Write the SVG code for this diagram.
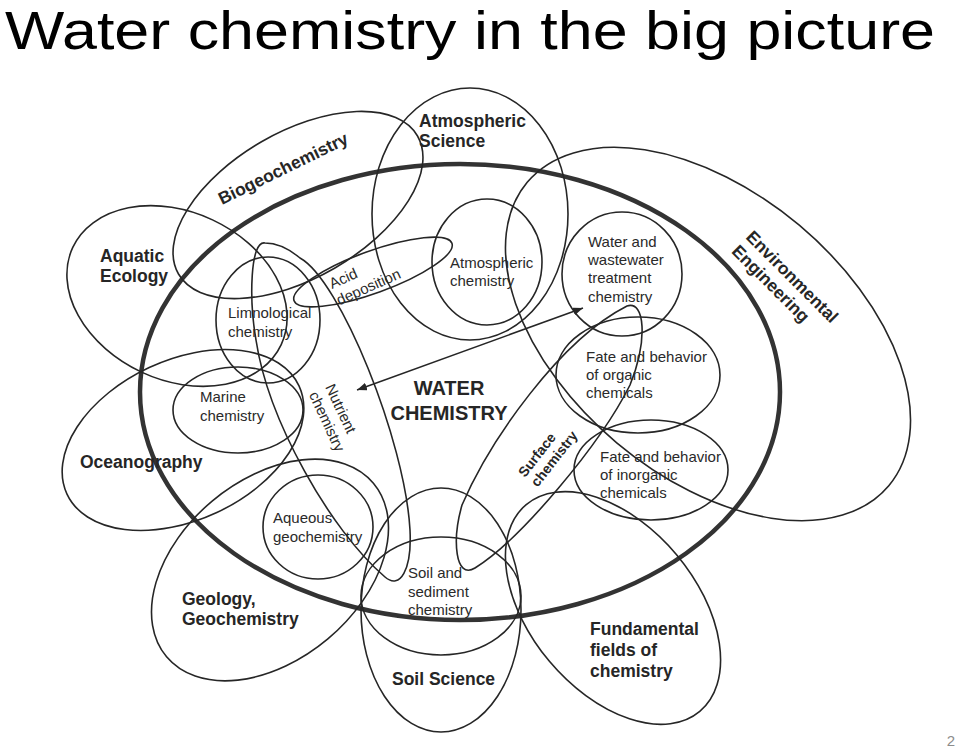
<svg xmlns="http://www.w3.org/2000/svg" width="960" height="753" viewBox="0 0 960 753">
<style>
.s{fill:none;stroke:#262626;stroke-width:1.6}
.main{fill:none;stroke:#333;stroke-width:4.5}
.b{font-family:"Liberation Sans",Arial,sans-serif;font-weight:bold;font-size:17.5px;fill:#262626}
.r{font-family:"Liberation Sans",Arial,sans-serif;font-size:15px;fill:#2a2a2a}
.title{font-family:"Liberation Sans",Arial,sans-serif;font-size:54px;fill:#000}
</style>
<defs>
<marker id="ah" viewBox="0 0 10 8" refX="10" refY="4" markerWidth="10" markerHeight="8" markerUnits="userSpaceOnUse" orient="auto-start-reverse">
<path d="M0,0 L10,4 L0,8 Z" fill="#262626"/>
</marker>
</defs>
<rect width="960" height="753" fill="#fff"/>
<text class="title" x="5" y="49" textLength="930" lengthAdjust="spacingAndGlyphs">Water chemistry in the big picture</text>
<text x="951" y="746" text-anchor="middle" style="font-family:'Liberation Sans',Arial,sans-serif;font-size:15px;fill:#8c8c8c">2</text>

<g id="water-chemistry">
<ellipse class="main" cx="460" cy="392" rx="320" ry="228"/>
<text class="b" style="font-size:20px" text-anchor="middle"><tspan x="449" y="395">WATER</tspan><tspan x="449" y="420">CHEMISTRY</tspan></text>
</g>
<g id="biogeochemistry">
<ellipse class="s" cx="298" cy="205" rx="138" ry="73" transform="rotate(-30 298 205)"/>
<text class="b" transform="translate(222,205) rotate(-26)">Biogeochemistry</text>
</g>
<g id="atmospheric-science">
<ellipse class="s" cx="470" cy="214" rx="98" ry="126"/>
<text class="b"><tspan x="419" y="127">Atmospheric</tspan><tspan x="419" y="147">Science</tspan></text>
</g>
<g id="atmospheric-chemistry">
<ellipse class="s" cx="487" cy="262" rx="55" ry="63"/>
<text class="r"><tspan x="450" y="268">Atmospheric</tspan><tspan x="450" y="286">chemistry</tspan></text>
</g>
<g id="acid-deposition">
<ellipse class="s" cx="373" cy="272" rx="84" ry="21" transform="rotate(-20 373 272)"/>
<text class="r" transform="translate(332,289) rotate(-24)"><tspan x="0" y="0">Acid</tspan><tspan x="0" y="18">deposition</tspan></text>
</g>
<g id="aquatic-ecology">
<ellipse class="s" cx="177" cy="296" rx="115" ry="84" transform="rotate(25 177 296)"/>
<text class="b"><tspan x="100" y="262">Aquatic</tspan><tspan x="100" y="282">Ecology</tspan></text>
</g>
<g id="limnological-chemistry">
<ellipse class="s" cx="268" cy="320" rx="52" ry="63"/>
<text class="r"><tspan x="228" y="318">Limnological</tspan><tspan x="228" y="337">chemistry</tspan></text>
</g>
<g id="nutrient-chemistry">
<path class="s" d="M265,243 C250,240 249,300 256,340 C268,420 330,530 385,577 C400,590 412,570 410,530 C405,440 340,280 300,258 C288,248 277,243 265,243 Z"/>
<text class="r" transform="translate(325,387) rotate(65)"><tspan x="0" y="0">Nutrient</tspan><tspan x="0" y="18">chemistry</tspan></text>
</g>
<g id="marine-chemistry">
<ellipse class="s" cx="238" cy="410" rx="65" ry="43"/>
<text class="r"><tspan x="200" y="402">Marine</tspan><tspan x="200" y="421">chemistry</tspan></text>
</g>
<g id="oceanography">
<ellipse class="s" cx="183" cy="440" rx="128" ry="80" transform="rotate(-25 183 440)"/>
<text class="b" x="80" y="468">Oceanography</text>
</g>
<g id="geology">
<ellipse class="s" cx="270" cy="570" rx="135" ry="90" transform="rotate(-40 270 570)"/>
<text class="b"><tspan x="182" y="605">Geology,</tspan><tspan x="182" y="625">Geochemistry</tspan></text>
</g>
<g id="aqueous-geochemistry">
<ellipse class="s" cx="318" cy="527" rx="55" ry="52"/>
<text class="r"><tspan x="273" y="523">Aqueous</tspan><tspan x="273" y="542">geochemistry</tspan></text>
</g>
<g id="soil-sediment-chemistry">
<ellipse class="s" cx="441" cy="596" rx="80" ry="59"/>
<text class="r"><tspan x="408" y="578">Soil and</tspan><tspan x="408" y="597">sediment</tspan><tspan x="408" y="615">chemistry</tspan></text>
</g>
<g id="soil-science">
<ellipse class="s" cx="441" cy="610" rx="80" ry="122"/>
<text class="b" x="392" y="685">Soil Science</text>
</g>
<g id="fundamental-fields">
<ellipse class="s" cx="613" cy="608" rx="135" ry="83" transform="rotate(50 613 608)"/>
<text class="b"><tspan x="590" y="635">Fundamental</tspan><tspan x="590" y="656">fields of</tspan><tspan x="590" y="677">chemistry</tspan></text>
</g>
<g id="surface-chemistry">
<path class="s" d="M627,306 C645,300 648,340 630,385 C600,445 520,540 475,568 C455,580 452,540 462,505 C490,440 560,340 627,306 Z"/>
<text class="b" style="font-size:14px" transform="translate(525,478) rotate(-52)"><tspan x="0" y="0">Surface</tspan><tspan x="0" y="16">chemistry</tspan></text>
</g>
<g id="environmental-engineering">
<ellipse class="s" cx="708" cy="334" rx="236" ry="142" transform="rotate(40 708 334)"/>
<text class="b" transform="translate(745,238) rotate(45)"><tspan x="0" y="0">Environmental</tspan><tspan x="0" y="20">Engineering</tspan></text>
</g>
<g id="water-wastewater">
<ellipse class="s" cx="622" cy="274" rx="60" ry="62"/>
<text class="r"><tspan x="588" y="247">Water and</tspan><tspan x="588" y="265">wastewater</tspan><tspan x="588" y="283">treatment</tspan><tspan x="588" y="302">chemistry</tspan></text>
</g>
<g id="fate-organic">
<ellipse class="s" cx="638" cy="375" rx="82" ry="58"/>
<text class="r"><tspan x="586" y="362">Fate and behavior</tspan><tspan x="586" y="380">of organic</tspan><tspan x="586" y="398">chemicals</tspan></text>
</g>
<g id="fate-inorganic">
<ellipse class="s" cx="651" cy="470" rx="77" ry="50"/>
<text class="r"><tspan x="600" y="462">Fate and behavior</tspan><tspan x="600" y="480">of inorganic</tspan><tspan x="600" y="498">chemicals</tspan></text>
</g>
<g id="connectors">
<line class="s" x1="357" y1="390" x2="583" y2="308" marker-start="url(#ah)" marker-end="url(#ah)"/>
</g>
</svg>
